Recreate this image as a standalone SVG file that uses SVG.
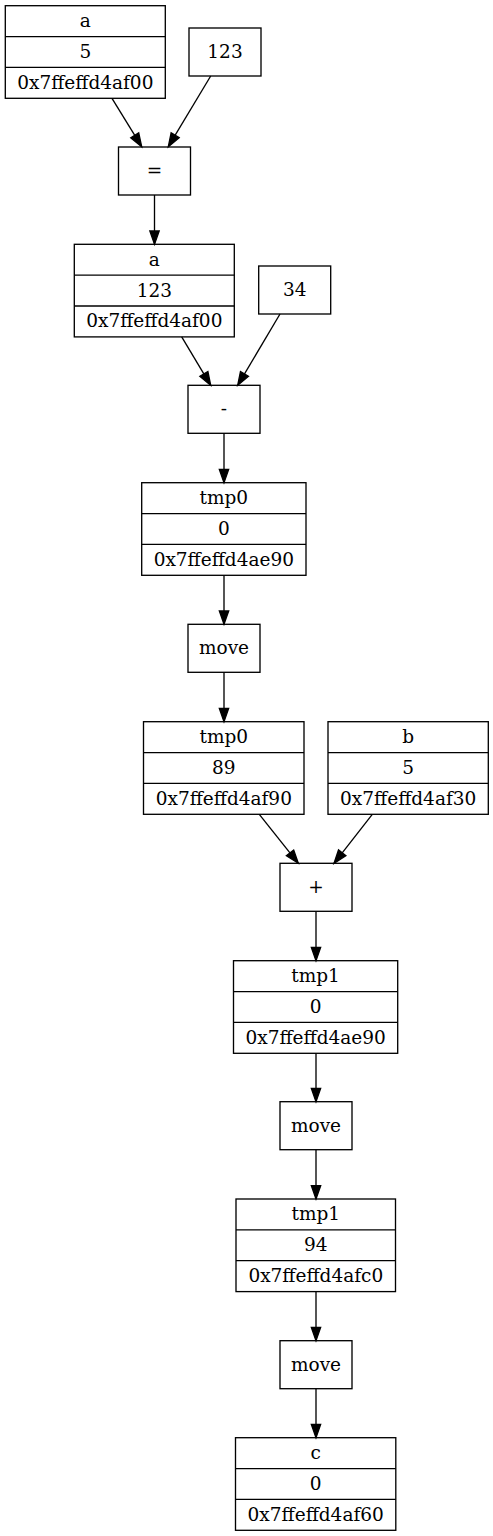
<svg xmlns="http://www.w3.org/2000/svg" width="493" height="1536" viewBox="0 0 493 1536">
<style>
.n rect, .n line{fill:none;stroke:#000;stroke-width:1.33}
.n text{font-family:"DejaVu Serif","Liberation Serif",serif;font-size:18.5px;text-anchor:middle;fill:#000}
.e line{stroke:#000;stroke-width:1.33;marker-end:url(#ah)}
</style>
<defs>
<marker id="ah" markerUnits="userSpaceOnUse" markerWidth="16" markerHeight="12" refX="13.3" refY="4.67" orient="auto" overflow="visible">
<path d="M0,0 L13.3,4.67 L0,9.33 Z" fill="#000" stroke="#000" stroke-width="1.33"/>
</marker>
</defs>
<rect width="493" height="1536" fill="#fff"/>
<g id="edges" class="e">
<line x1="112" y1="98.3" x2="141.7" y2="146.7"/>
<line x1="210.7" y1="76" x2="168.3" y2="146.7"/>
<line x1="154.5" y1="195" x2="154.5" y2="244.3"/>
<line x1="181.7" y1="336.9" x2="210.7" y2="385.3"/>
<line x1="280" y1="314" x2="237.7" y2="385.3"/>
<line x1="224" y1="433.3" x2="224" y2="482.7"/>
<line x1="224" y1="575.3" x2="224" y2="624.3"/>
<line x1="224" y1="672.3" x2="224" y2="721.7"/>
<line x1="259.3" y1="814.3" x2="298.3" y2="863.3"/>
<line x1="372.3" y1="814.3" x2="334" y2="863.3"/>
<line x1="316" y1="911.3" x2="316" y2="960.7"/>
<line x1="316" y1="1053.3" x2="316" y2="1101.7"/>
<line x1="316" y1="1149.7" x2="316" y2="1199"/>
<line x1="316" y1="1291.6" x2="316" y2="1340.7"/>
<line x1="316" y1="1388.7" x2="316" y2="1437.7"/>
</g>
<g id="a1" class="n">
<rect x="5.3" y="5.7" width="160" height="92.6"/>
<line x1="5.3" y1="36.6" x2="165.3" y2="36.6"/>
<line x1="5.3" y1="67.4" x2="165.3" y2="67.4"/>
<text x="85.3" y="27">a</text><text x="85.3" y="57.9">5</text><text x="85.3" y="88.8">0x7ffeffd4af00</text>
</g>
<g id="n123" class="n">
<rect x="189" y="28" width="72" height="48"/>
<text x="225" y="58">123</text>
</g>
<g id="assign" class="n">
<rect x="118.5" y="147" width="72" height="48"/>
<text x="154.5" y="177">=</text>
</g>
<g id="a2" class="n">
<rect x="74.3" y="244.3" width="160" height="92.6"/>
<line x1="74.3" y1="275.2" x2="234.3" y2="275.2"/>
<line x1="74.3" y1="306" x2="234.3" y2="306"/>
<text x="154.3" y="265.7">a</text><text x="154.3" y="296.6">123</text><text x="154.3" y="327.4">0x7ffeffd4af00</text>
</g>
<g id="n34" class="n">
<rect x="258.7" y="266" width="72" height="48"/>
<text x="294.7" y="296">34</text>
</g>
<g id="minus" class="n">
<rect x="188" y="385.3" width="72" height="48"/>
<text x="224" y="415.3">-</text>
</g>
<g id="tmp0a" class="n">
<rect x="141.7" y="482.7" width="164.3" height="92.6"/>
<line x1="141.7" y1="513.6" x2="306" y2="513.6"/>
<line x1="141.7" y1="544.4" x2="306" y2="544.4"/>
<text x="223.8" y="504.1">tmp0</text><text x="223.8" y="535">0</text><text x="223.8" y="565.8">0x7ffeffd4ae90</text>
</g>
<g id="move1" class="n">
<rect x="188" y="624.3" width="72" height="48"/>
<text x="224" y="654.3">move</text>
</g>
<g id="tmp0b" class="n">
<rect x="143.5" y="721.7" width="160.5" height="92.6"/>
<line x1="143.5" y1="752.6" x2="304" y2="752.6"/>
<line x1="143.5" y1="783.4" x2="304" y2="783.4"/>
<text x="223.8" y="743.1">tmp0</text><text x="223.8" y="774">89</text><text x="223.8" y="804.8">0x7ffeffd4af90</text>
</g>
<g id="b" class="n">
<rect x="328" y="721.7" width="160.3" height="92.6"/>
<line x1="328" y1="752.6" x2="488.3" y2="752.6"/>
<line x1="328" y1="783.4" x2="488.3" y2="783.4"/>
<text x="408.2" y="743.1">b</text><text x="408.2" y="774">5</text><text x="408.2" y="804.8">0x7ffeffd4af30</text>
</g>
<g id="plus" class="n">
<rect x="280" y="863.3" width="72" height="48"/>
<text x="316" y="893.3">+</text>
</g>
<g id="tmp1a" class="n">
<rect x="233.5" y="960.7" width="164.2" height="92.6"/>
<line x1="233.5" y1="991.6" x2="397.7" y2="991.6"/>
<line x1="233.5" y1="1022.4" x2="397.7" y2="1022.4"/>
<text x="315.6" y="982.1">tmp1</text><text x="315.6" y="1013">0</text><text x="315.6" y="1043.8">0x7ffeffd4ae90</text>
</g>
<g id="move2" class="n">
<rect x="280" y="1101.7" width="72" height="48"/>
<text x="316" y="1131.7">move</text>
</g>
<g id="tmp1b" class="n">
<rect x="236" y="1199" width="159.5" height="92.6"/>
<line x1="236" y1="1229.9" x2="395.5" y2="1229.9"/>
<line x1="236" y1="1260.7" x2="395.5" y2="1260.7"/>
<text x="315.8" y="1220.4">tmp1</text><text x="315.8" y="1251.3">94</text><text x="315.8" y="1282.1">0x7ffeffd4afc0</text>
</g>
<g id="move3" class="n">
<rect x="280" y="1340.7" width="72" height="48"/>
<text x="316" y="1370.7">move</text>
</g>
<g id="c" class="n">
<rect x="235.5" y="1437.7" width="160.3" height="92.6"/>
<line x1="235.5" y1="1468.6" x2="395.8" y2="1468.6"/>
<line x1="235.5" y1="1499.4" x2="395.8" y2="1499.4"/>
<text x="315.7" y="1459.1">c</text><text x="315.7" y="1490">0</text><text x="315.7" y="1520.8">0x7ffeffd4af60</text>
</g>
</svg>
